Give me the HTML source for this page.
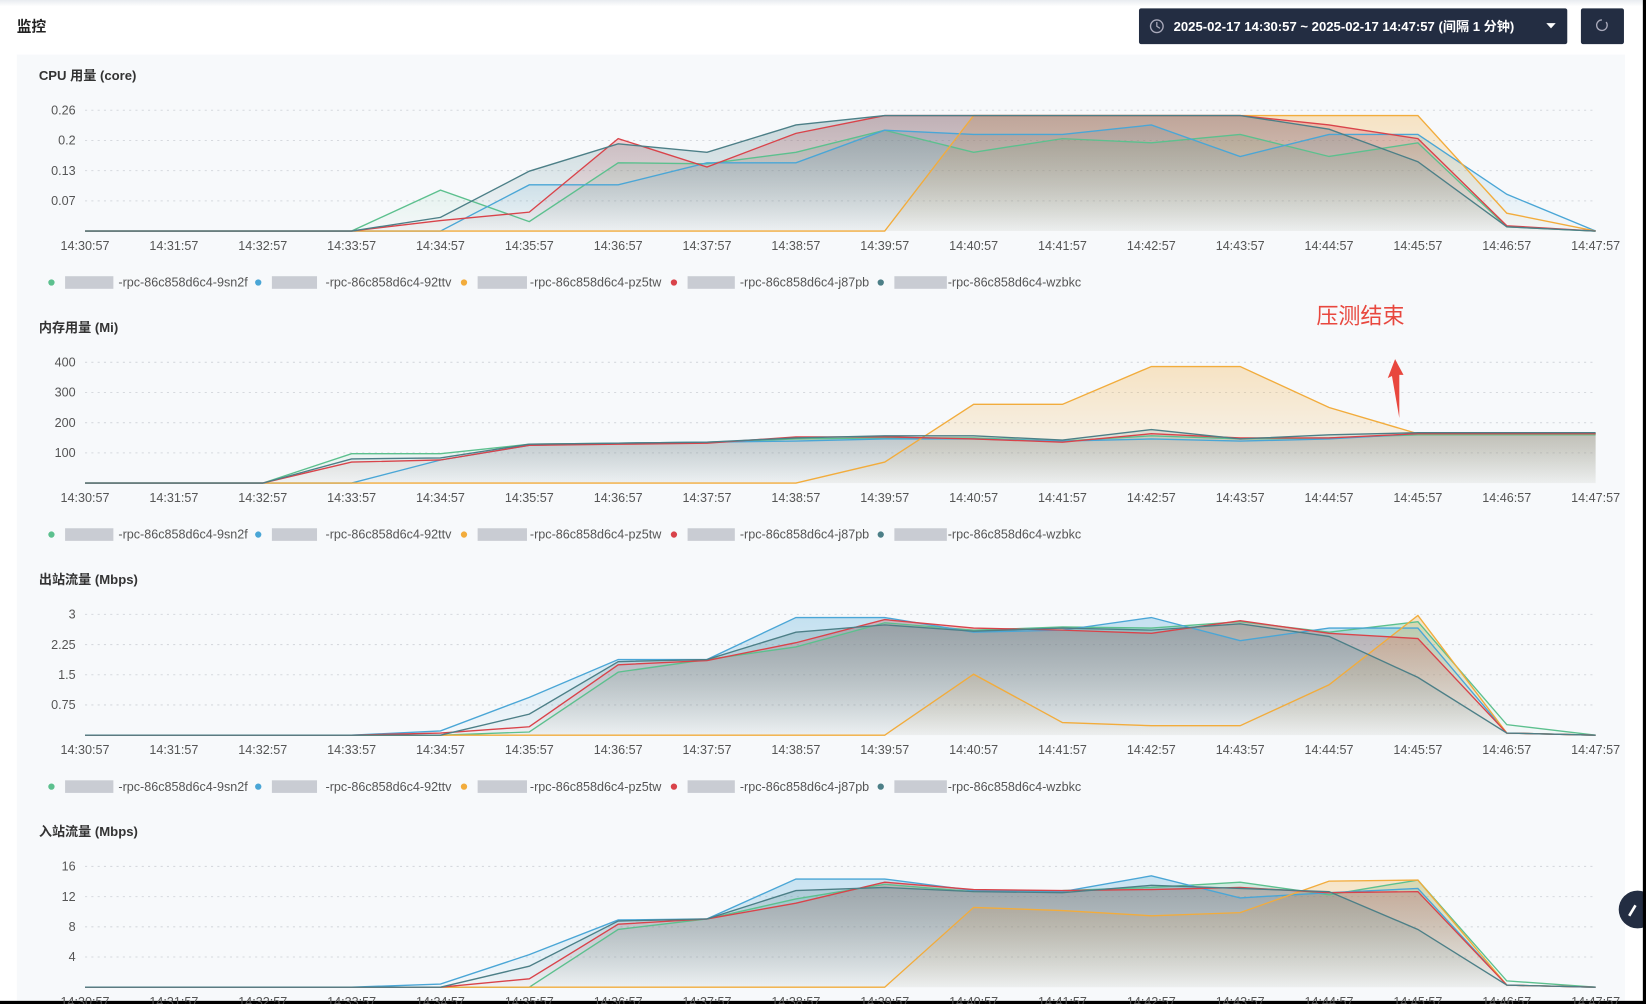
<!DOCTYPE html>
<html><head><meta charset="utf-8"><style>
html,body{margin:0;padding:0;background:#fff;width:1646px;height:1004px;overflow:hidden}
svg{display:block}
text{font-family:"Liberation Sans","Noto Sans CJK SC",sans-serif}
</style></head><body>
<svg id="s" width="1646" height="1004" viewBox="0 0 1568 956" preserveAspectRatio="none" xmlns="http://www.w3.org/2000/svg">
<defs>
<linearGradient id="topsh" x1="0" y1="0" x2="0" y2="1"><stop offset="0" stop-color="#e8ecf0"/><stop offset="1" stop-color="#fff"/></linearGradient>
</defs>
<rect x="0" y="0" width="1568" height="956" fill="#fff"/>
<rect x="0" y="0" width="1568" height="6" fill="url(#topsh)"/>
<text x="16" y="30" font-size="14" font-weight="bold" fill="#222">监控</text>
<rect x="1085" y="8" width="408" height="34" rx="2" fill="#232d42"/>
<circle cx="1102" cy="25" r="6" fill="none" stroke="#aab" stroke-width="1.3"/>
<path d="M1102 21v4l3 2" stroke="#aab" fill="none" stroke-width="1.2"/>
<text x="1118" y="29.5" font-size="12.5" font-weight="bold" fill="#fff">2025-02-17 14:30:57 ~ 2025-02-17 14:47:57 (间隔 1 分钟)</text>
<path d="M1473 22h9l-4.5 5z" fill="#fff"/>
<rect x="1506" y="8" width="41" height="34" rx="2" fill="#232d42"/>
<path d="M1530 21a5 5 0 1 1-4-2" stroke="#aab" fill="none" stroke-width="1.3"/>
<rect x="16" y="52" width="1532" height="904" fill="#f7f9fb"/>
<circle cx="1560" cy="866" r="18" fill="#232d42"/>
<path d="M1552 872l6-10" stroke="#fff" stroke-width="2.5"/>
<rect x="1565" y="0" width="3" height="956" fill="#000"/>
<rect x="0" y="953" width="1568" height="3" fill="#000"/>
<g id="charts"></g>
<text x="1254" y="308" font-size="21" fill="#e8473e">压测结束</text>
<path d="M1333 398 L1326 358 L1322 360 L1329 342 L1337 357 L1333 357 Z" fill="#e8473e"/>
</svg>
<script>
var times=["14:30:57","14:31:57","14:32:57","14:33:57","14:34:57","14:35:57","14:36:57","14:37:57","14:38:57","14:39:57","14:40:57","14:41:57","14:42:57","14:43:57","14:44:57","14:45:57","14:46:57","14:47:57"];
var cols=["#5cc08e","#4aa6d6","#f2ac3c","#d9434a","#4c7f87"];
var names=["-rpc-86c858d6c4-9sn2f","-rpc-86c858d6c4-92ttv","-rpc-86c858d6c4-pz5tw","-rpc-86c858d6c4-j87pb","-rpc-86c858d6c4-wzbkc"];
function Z(n,v){var a=[];for(var i=0;i<n;i++)a.push(v);return a;}
var charts=[
{t:"CPU 用量 (core)",oy:0,labels:["0.26","0.2","0.13","0.07"],base:220,data:[
Z(4,220).concat([181,211,155,156,145,124,145,132,136,128,149,136,216,220]),
Z(5,220).concat([176,176,155,155,124,128,128,119,149,128,128,185,220]),
Z(10,220).concat([110,110,110,110,110,110,203,220]),
Z(4,220).concat([210,202,132,159,127,110,110,110,110,110,119,132,215,220]),
Z(4,220).concat([207,163,137,145,119,110,110,110,110,110,123,154,216,220])]},
{t:"内存用量 (Mi)",oy:240,labels:["400","300","200","100"],base:220,data:[
[220,220,220,192,192,183,182,181,178,177,177,180,175,178,177,174,174,174],
[220,220,220,220,198,184,182,181,180,178,178,180,178,180,178,173,173,173],
Z(9,220).concat([200,145,145,109,109,148,173,173,173]),
[220,220,220,200,198,184,183,182,176,176,178,181,173,177,177,173,173,173],
[220,220,220,197,196,183,182,181,177,175,175,179,169,178,174,172,172,172]]},
{t:"出站流量 (Mbps)",oy:480,labels:["3","2.25","1.5","0.75"],base:220,data:[
Z(5,220).concat([217,160,148,136,113,120,117,118,112,122,112,210,220]),
Z(4,220).concat([216,184,148,148,108,108,122,120,108,130,118,118,218,220]),
Z(10,220).concat([162,208,211,211,172,106,218,220]),
Z(4,220).concat([218,212,153,149,132,110,118,120,123,111,123,128,218,220]),
Z(5,220).concat([200,150,148,122,115,121,118,120,114,126,165,218,220])]},
{t:"入站流量 (Mbps)",oy:720,labels:["16","12","8","4"],base:220,data:[
Z(6,220).concat([165,155,136,122,129,128,125,120,132,118,214,220]),
Z(4,220).concat([217,189,156,155,117,117,128,129,114,135,130,126,218,220]),
Z(10,220).concat([144,147,152,149,119,118,218,220]),
Z(5,220).concat([212,160,155,140,120,127,128,127,125,130,129,218,220]),
Z(5,220).concat([200,157,155,128,125,129,130,123,126,129,165,218,220])]}
];
var X0=81,X1=1520,dx=(X1-X0)/17,out="";
charts.forEach(function(c,ci){
 var o=c.oy;
 out+='<text x="37" y="'+(76+o)+'" font-size="12.5" font-weight="bold" fill="#333">'+c.t+'</text>';
 for(var k=0;k<4;k++){var y=105+k*28.75+o;
  out+='<line x1="'+X0+'" x2="'+X1+'" y1="'+y+'" y2="'+y+'" stroke="#d6d9de" stroke-width="1" stroke-dasharray="2,4"/>';
  out+='<text x="72" y="'+(y+4)+'" font-size="12" fill="#555" text-anchor="end">'+c.labels[k]+'</text>';}
 times.forEach(function(t,i){out+='<text x="'+(X0+i*dx)+'" y="'+(238+o)+'" font-size="12" fill="#555" text-anchor="middle">'+t+'</text>';});
 var grad="";
 c.data.forEach(function(d,si){
  var gid="g"+ci+"_"+si;
  out+='<linearGradient id="'+gid+'" x1="0" y1="'+(105+o)+'" x2="0" y2="'+(220+o)+'" gradientUnits="userSpaceOnUse"><stop offset="0" stop-color="'+cols[si]+'" stop-opacity="0.3"/><stop offset="1" stop-color="'+cols[si]+'" stop-opacity="0.02"/></linearGradient>';
  var p=d.map(function(v,i){return (X0+i*dx).toFixed(1)+','+(v+o);}).join(' ');
  out+='<polygon points="'+X0+','+(220+o)+' '+p+' '+X1+','+(220+o)+'" fill="url(#'+gid+')"/>';
 });
 c.data.forEach(function(d,si){
  var p=d.map(function(v,i){return (X0+i*dx).toFixed(1)+','+(v+o);}).join(' ');
  out+='<polyline points="'+p+'" fill="none" stroke="'+cols[si]+'" stroke-width="1.3"/>';
 });
 var dots=[49,246,442,642,839],ends=[236,430,630,828,1030];
 for(var s=0;s<5;s++){var ly=269+o;
  out+='<circle cx="'+dots[s]+'" cy="'+ly+'" r="3" fill="'+cols[s]+'"/>';
  out+='<rect x="'+(dots[s]+13)+'" y="'+(ly-6)+'" width="'+(ends[s]-dots[s]-13-128)+'" height="12" fill="#c9ccd3"/>';
  out+='<text x="'+ends[s]+'" y="'+(ly+4)+'" font-size="12" fill="#555" text-anchor="end">'+names[s]+'</text>';}
});
document.getElementById("charts").innerHTML=out;
</script>
</body></html>
